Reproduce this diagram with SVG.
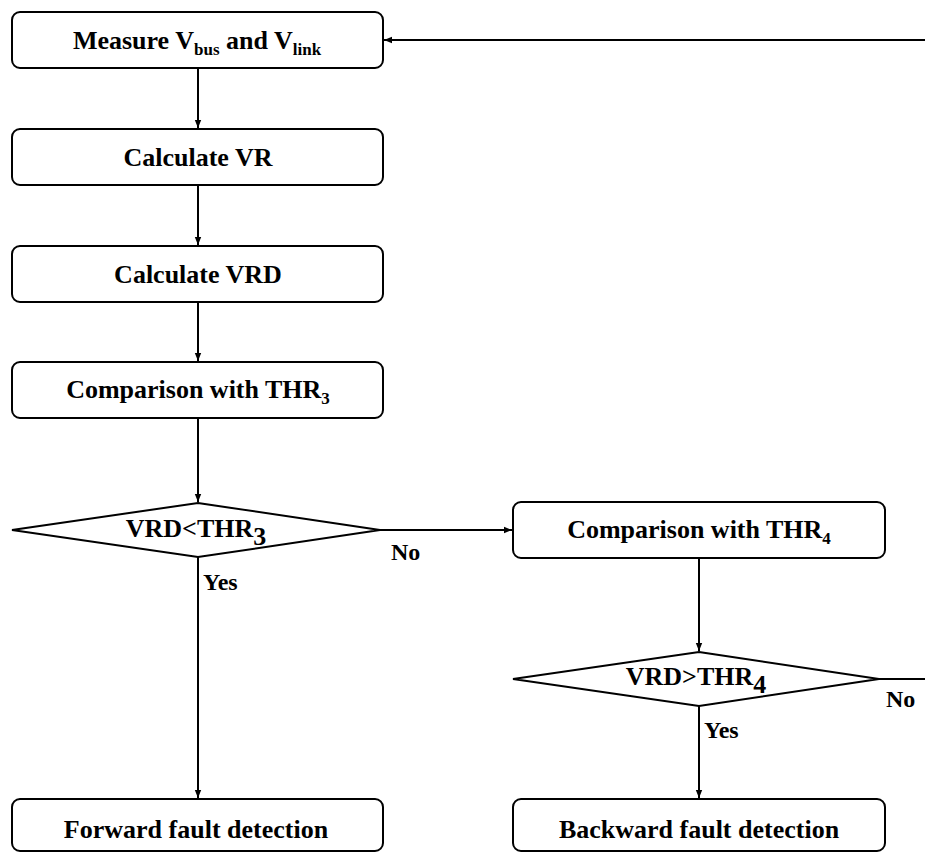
<svg xmlns="http://www.w3.org/2000/svg" width="925" height="853" viewBox="0 0 925 853">
  <defs>
    <marker id="arrow" viewBox="0 0 10 10" refX="10" refY="5" markerWidth="8" markerHeight="8" markerUnits="userSpaceOnUse" orient="auto">
      <path d="M0,1 L10,5 L0,9 Z" fill="#000"/>
    </marker>
    <style>
      .box { fill: #fff; stroke: #000; stroke-width: 2; }
      .edge { fill: none; stroke: #000; stroke-width: 2; }
      .arr { marker-end: url(#arrow); }
      .lbl { font-size: 26px; text-anchor: middle; }
      .sub { font-size: 17px; }
      .tag { font-size: 24px; }
    </style>
  </defs>
  <rect width="925" height="853" fill="#fff"/>

  <g font-family="'Liberation Serif', 'Times New Roman', Times, serif" font-weight="bold" fill="#000">
  <!-- connectors and branch labels -->
  <g id="connectors">
    <line class="edge" x1="925" y1="40" x2="384" y2="40" marker-end="url(#arrow)"/>
    <line class="edge arr" x1="198" y1="68" x2="198" y2="128"/>
    <line class="edge arr" x1="198" y1="185" x2="198" y2="245"/>
    <line class="edge arr" x1="198" y1="302" x2="198" y2="361"/>
    <line class="edge arr" x1="198" y1="418" x2="198" y2="502"/>
    <line class="edge arr" x1="380" y1="530" x2="512" y2="530"/>
    <line class="edge arr" x1="198" y1="557" x2="198" y2="798"/>
    <line class="edge arr" x1="699" y1="558" x2="699" y2="651"/>
    <line class="edge" x1="879" y1="679" x2="925" y2="679"/>
    <line class="edge arr" x1="699" y1="706" x2="699" y2="798"/>
    <text class="tag" x="391" y="560">No</text>
    <text class="tag" x="203" y="590">Yes</text>
    <text class="tag" x="886" y="707">No</text>
    <text class="tag" x="704" y="738">Yes</text>
  </g>

  <g id="measure">
    <rect class="box" x="12" y="12" width="371" height="56" rx="8"/>
    <text class="lbl" x="197" y="49">Measure V<tspan class="sub" dy="6">bus</tspan><tspan dy="-6"> and V</tspan><tspan class="sub" dy="6">link</tspan></text>
  </g>

  <g id="calc-vr">
    <rect class="box" x="12" y="129" width="371" height="56" rx="8"/>
    <text class="lbl" x="198" y="166">Calculate VR</text>
  </g>

  <g id="calc-vrd">
    <rect class="box" x="12" y="246" width="371" height="56" rx="8"/>
    <text class="lbl" x="198" y="283">Calculate VRD</text>
  </g>

  <g id="compare-thr3">
    <rect class="box" x="12" y="362" width="371" height="56" rx="8"/>
    <text class="lbl" x="198" y="398">Comparison with THR<tspan class="sub" dy="6">3</tspan></text>
  </g>

  <g id="decision-thr3">
    <polygon class="box" points="198,503 380,530 198,557 12,530"/>
    <text class="lbl" x="196" y="537">VRD&lt;THR<tspan dy="8">3</tspan></text>
  </g>

  <g id="compare-thr4">
    <rect class="box" x="513" y="502" width="372" height="56" rx="8"/>
    <text class="lbl" x="699" y="538">Comparison with THR<tspan class="sub" dy="6">4</tspan></text>
  </g>

  <g id="decision-thr4">
    <polygon class="box" points="699,652 879,679 699,706 513,679"/>
    <text class="lbl" x="696" y="685">VRD&gt;THR<tspan dy="8">4</tspan></text>
  </g>

  <g id="forward">
    <rect class="box" x="12" y="799" width="371" height="52" rx="8"/>
    <text class="lbl" x="196" y="838">Forward fault detection</text>
  </g>

  <g id="backward">
    <rect class="box" x="513" y="799" width="372" height="52" rx="8"/>
    <text class="lbl" x="699" y="838">Backward fault detection</text>
  </g>
  </g>
</svg>
